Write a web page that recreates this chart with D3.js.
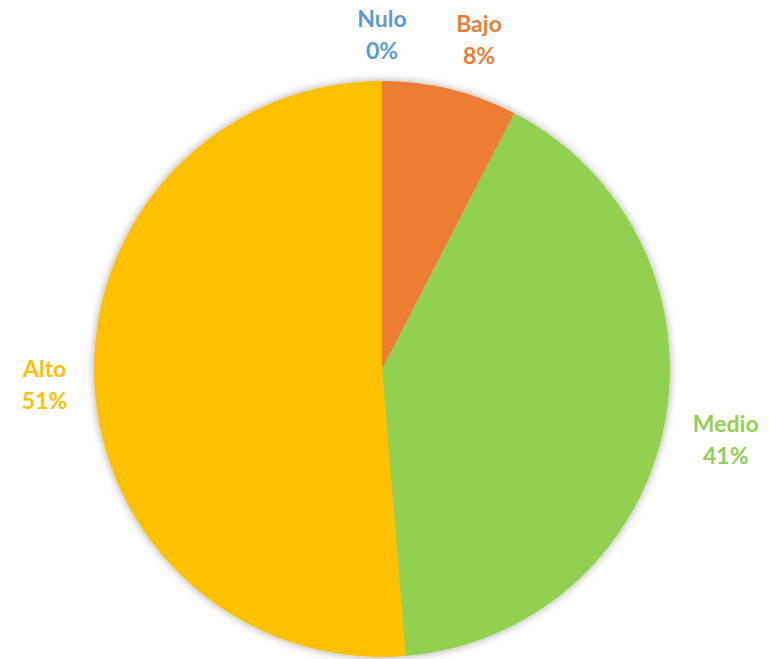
<!DOCTYPE html>
<html>
<head>
<meta charset="utf-8">
<script src="https://cdn.jsdelivr.net/npm/d3@7"></script>
<style>
	body { margin: 0; background: #fff; }
	svg { display: block; }
	text { font-family: Lato, 'Open Sans', sans-serif; font-weight: bold; font-size: 23px; }
</style>
</head>
<body>
<svg id="chart" width="769" height="659"></svg>
<script>
const categories = ['Nulo', 'Bajo', 'Medio', 'Alto']
const values = [0, 7.6, 41.1, 51.3]
const colors = ['#5B9BD5', '#ED7D31', '#92D050', '#FFC000']

const data = categories.map((c, i) => ({ label: c, value: values[i], color: colors[i] }))

const cx = 382
const cy = 369
const radius = 288

const svg = d3.select('#chart')

const defs = svg.append('defs')
const shadow = defs.append('filter')
	.attr('id', 'shadow')
	.attr('x', '-10%').attr('y', '-10%')
	.attr('width', '120%').attr('height', '120%')
shadow.append('feDropShadow')
	.attr('dx', 0)
	.attr('dy', 0)
	.attr('stdDeviation', 4)
	.attr('flood-color', '#000')
	.attr('flood-opacity', 0.35)

const pie = d3.pie()
	.value(d => d.value)
	.sort(null)

const arc = d3.arc()
	.innerRadius(0)
	.outerRadius(radius)

const arcs = pie(data)

const g = svg.append('g')
	.attr('transform', `translate(${cx},${cy})`)

g.append('g')
	.attr('filter', 'url(#shadow)')
	.selectAll('path')
	.data(arcs)
	.enter()
	.append('path')
	.attr('d', arc)
	.attr('fill', d => d.data.color)

const total = d3.sum(values)

const label = g.selectAll('g.label')
	.data(arcs)
	.enter()
	.append('g')
	.attr('class', 'label')
	.style('fill', d => d.data.color)
	.attr('text-anchor', 'middle')

label.append('text')
	.attr('y', -6)
	.text(d => d.data.label)

label.append('text')
	.attr('y', 26)
	.text(d => Math.round(d.data.value / total * 100) + '%')

// place each label box just outside the rim, then push apart close neighbours
const pos = []
label.each(function (d, i) {
	const w = this.getBBox().width
	const a = (d.startAngle + d.endAngle) / 2
	const r = radius + 26 + (w / 2) * Math.abs(Math.sin(a)) + 22 * Math.abs(Math.cos(a))
	pos[i] = [Math.sin(a) * r, -Math.cos(a) * r]
	if (i > 0) {
		const dx = pos[i][0] - pos[i - 1][0]
		const dy = pos[i][1] - pos[i - 1][1]
		if (Math.abs(dy) < 60 && Math.abs(dx) < 97) pos[i][0] = pos[i - 1][0] + 97
	}
})

label.attr('transform', (d, i) => `translate(${pos[i][0]},${pos[i][1]})`)
</script>
</body>
</html>
